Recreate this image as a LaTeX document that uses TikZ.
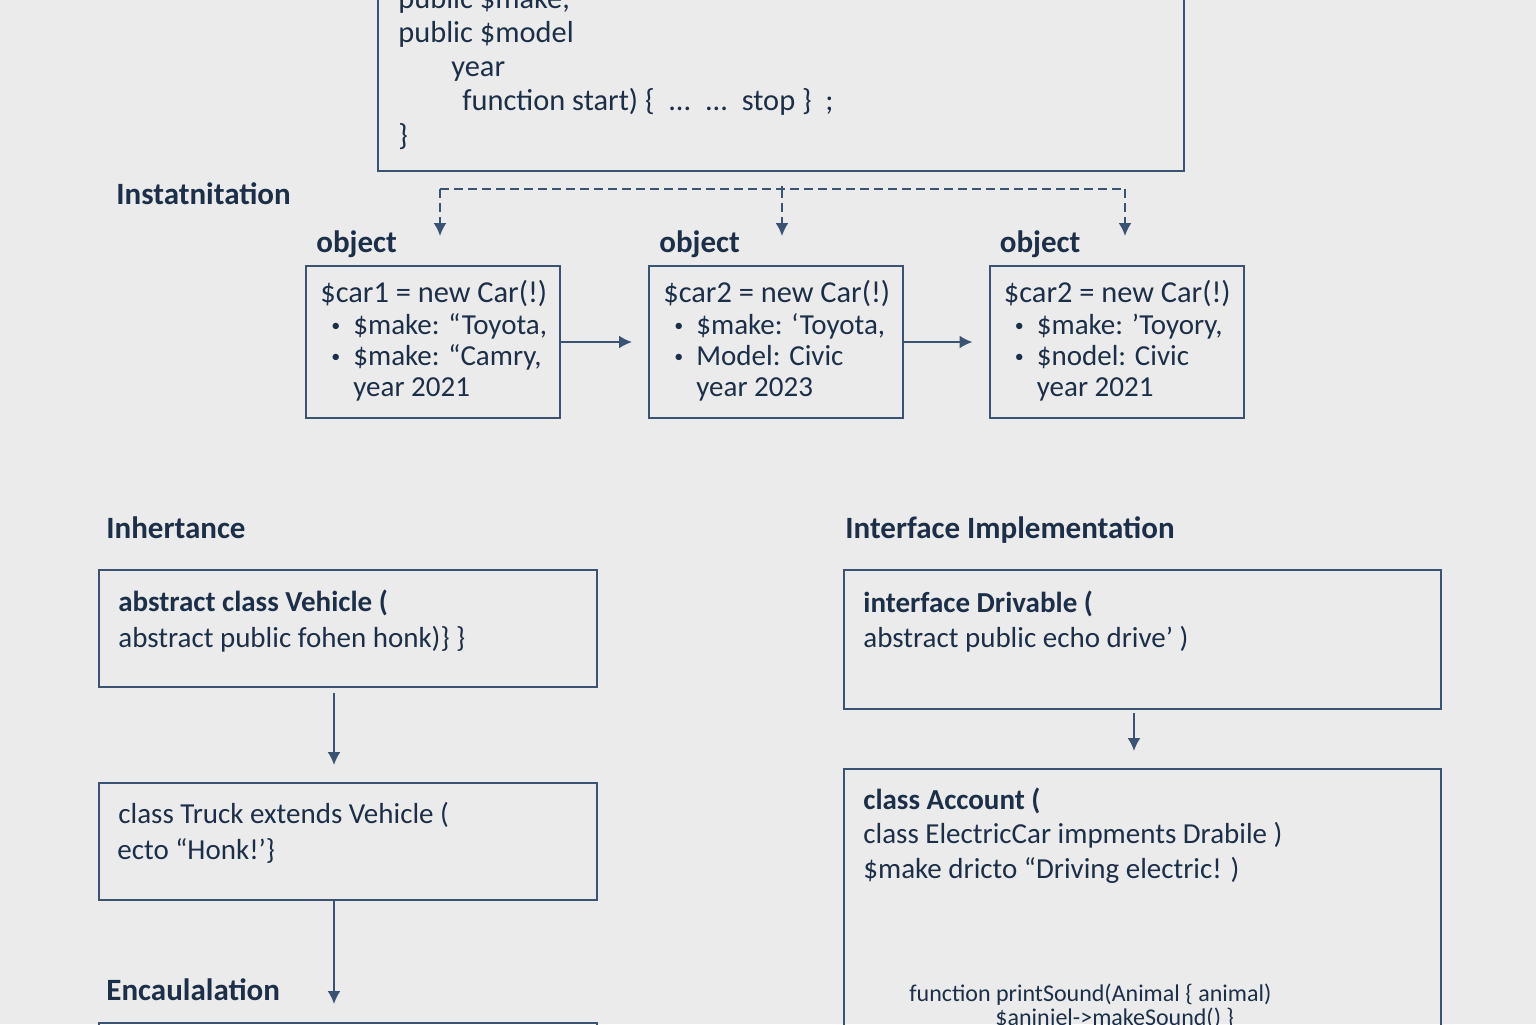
\documentclass[tikz,border=0pt]{standalone}
\usepackage{fontspec}
\setmainfont{Carlito}
\usetikzlibrary{arrows.meta}
\definecolor{bgc}{HTML}{EBEBEB}
\definecolor{inkc}{HTML}{1C2F48}
\definecolor{edgec}{HTML}{3A5372}

\begin{document}
\begin{tikzpicture}[
    x=0.5pt, y=-0.5pt,
    head/.style={anchor=base west, inner sep=0pt, text=inkc,
      font=\fontsize{15.5}{19}\selectfont\bfseries},
    code/.style={anchor=base west, inner sep=0pt, text=inkc,
      font=\fontsize{14.5}{17}\selectfont},
    bigcode/.style={code, font=\fontsize{15.2}{18}\selectfont},
    codeb/.style={code, font=\fontsize{14.5}{17}\selectfont\bfseries},
    small/.style={code, font=\fontsize{12}{14}\selectfont},
    dot/.style={code, font=\fontsize{9}{10}\selectfont},
    box/.style={draw=edgec, line width=1pt, inner sep=0pt},
    link/.style={->, draw=edgec, line width=1pt},
    dashlink/.style={draw=edgec, line width=1pt, dash pattern=on 4.5pt off 2.5pt},
    >={Latex[length=6.5pt, width=6.5pt]}
    ]
    \fill[bgc] (0,0) rectangle (1536,1024);
    \useasboundingbox (0,0) rectangle (1536,1024);
    \clip (0,0) rectangle (1536,1024);

    % Class
    \node[box, minimum width=403pt, minimum height=120.5pt] (cls) at (781,50.5) {};
    \node[bigcode] (cls-a) at (398,8)   {public \$make;};
    \node[bigcode] (cls-b) at (398,42)  {public \$model};
    \node[bigcode] (cls-c) at (451,76)  {year};
    \node[bigcode] (cls-d) at (462,110) {function start) \{ \ ...\ \ ...\ \ stop \} \ ;};
    \node[bigcode] (cls-e) at (398,145) {\}};

    % Objects
    \node[head] (inst) at (116,204) {Instatnitation};
    \foreach \n/\cx in {1/433, 2/776, 3/1116.5}
        \node[box, minimum width=127pt, minimum height=76pt] (car\n) at (\cx,342) {};
    \foreach \n/\va/\vb/\vc/\vd in {
        1/{\$car1 = new Car(!)}/{\$make: “Toyota,}/{\$make: “Camry,}/{year 2021},
        2/{\$car2 = new Car(!)}/{\$make: ‘Toyota,}/{Model: Civic}/{year 2023},
        3/{\$car2 = new Car(!)}/{\$make: ’Toyory,}/{\$nodel: Civic}/{year 2021}}
    {
        \node[head] (obj\n) at ([shift={(11,-13)}]car\n.north west) {object};
        \node[bigcode] (car\n-a) at ([shift={(15,37)}]car\n.north west) {\va};
        \node[dot] at ([shift={(26,66)}]car\n.north west) {\textbullet};
        \node[code] (car\n-b) at ([shift={(48,69)}]car\n.north west) {\vb};
        \node[dot] at ([shift={(26,97)}]car\n.north west) {\textbullet};
        \node[code] (car\n-c) at ([shift={(48,100)}]car\n.north west) {\vc};
        \node[code] (car\n-d) at ([shift={(48,131)}]car\n.north west) {\vd};
    }

    % Instantiation
    \coordinate (fork) at (782,186);
    \foreach \i/\x in {1/440, 2/782, 3/1125}
    {
        \coordinate (d\i) at (\x,189);
        \coordinate (t\i) at (\x,236);
        \draw[dashlink, ->] (d\i) -- (t\i);
    }
    \draw[dashlink] (d1) -- (d3);
    \draw[dashlink] (fork) -- (d2);
    \draw[link, shorten >=8pt] (car1) -- (car2);
    \draw[link, shorten >=8pt] (car2) -- (car3);

    % Inheritance
    \node[head] (inh) at (106,538) {Inhertance};
    \node[box, minimum width=249pt, minimum height=58.5pt] (vehicle) at (348,628.5) {};
    \node[codeb] (veh-a) at (118,611) {abstract class Vehicle (};
    \node[code]  (veh-b) at (118,647) {abstract public fohen honk)\} \}};
    \node[box, minimum width=249pt, minimum height=58.5pt] (truck) at (348,841.5) {};
    \node[code] (trk-a) at (118,823) {class Truck extends Vehicle (};
    \node[code] (trk-b) at (117,859) {ecto “Honk!’\}};
    \node[head] (enc) at (106,1000) {Encaulalation};
    \node[box, minimum width=249pt, minimum height=88.5pt] (encap) at (348,1111.5) {};
    \draw[link, shorten <=2.5pt, shorten >=8.5pt]
        ([xshift=-7pt]vehicle.south) -- ([xshift=-7pt]truck.north);
    \draw[link, shorten >=9pt]
        ([xshift=-7pt]truck.south) -- ([xshift=-7pt]encap.north);

    % Interface
    \node[head] (ifc) at (845,538) {Interface Implementation};
    \node[box, minimum width=298.5pt, minimum height=69.5pt] (drivable) at (1142.5,639.5) {};
    \node[codeb] (drv-a) at (863,612) {interface Drivable (};
    \node[code]  (drv-b) at (863,647) {abstract public echo drive’ )};
    \node[box, minimum width=298.5pt, minimum height=215.5pt] (account) at (1142.5,984.5) {};
    \node[codeb] (acc-a) at (863,809) {class Account (};
    \node[code]  (acc-b) at (863,843) {class ElectricCar impments Drabile )};
    \node[code]  (acc-c) at (863,878) {\$make dricto “Driving electric! )};
    \node[small] (acc-d) at (909,1001) {function printSound(Animal \{ animal)};
    \node[small] (acc-e) at (995,1025) {\$aninjel->makeSound() \}};
    \draw[link, shorten <=1.5pt, shorten >=8.5pt]
        ([xshift=-4.25pt]drivable.south) -- ([xshift=-4.25pt]account.north);
\end{tikzpicture}
\end{document}
